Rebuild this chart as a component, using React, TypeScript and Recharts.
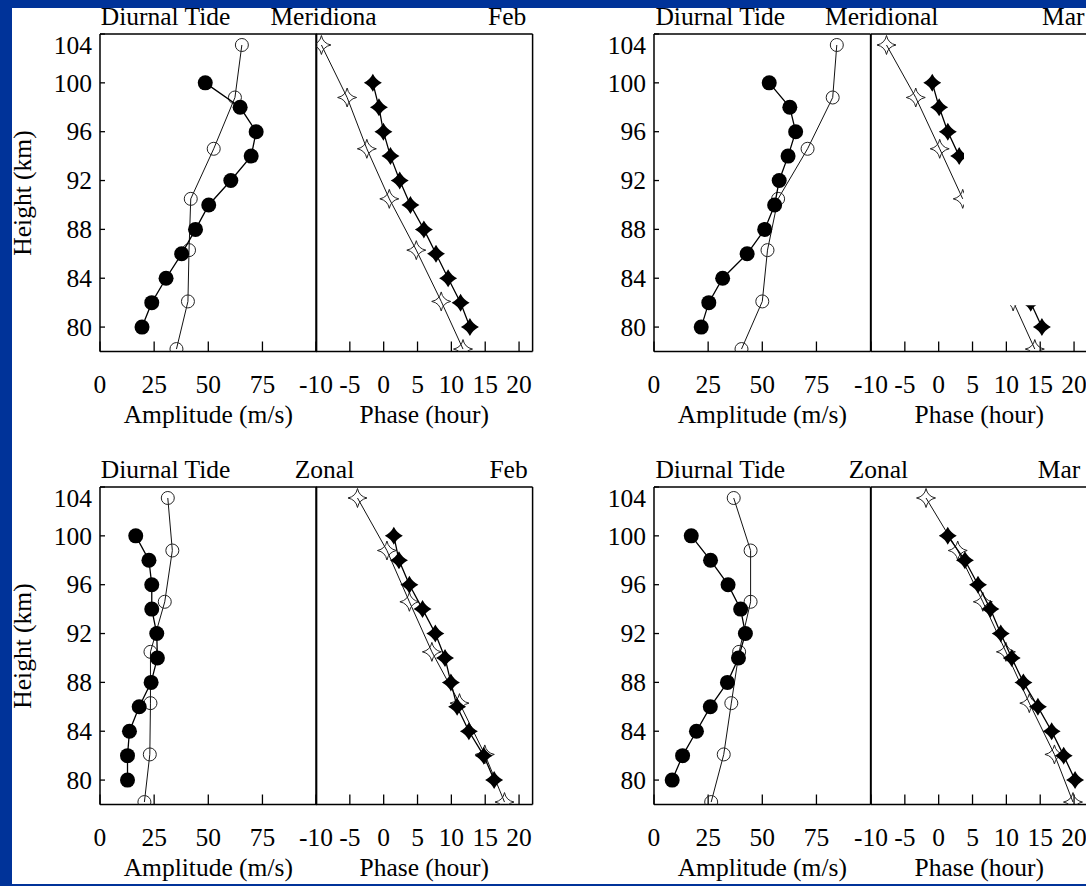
import React from 'react';
import { ScatterChart, Scatter, XAxis, YAxis, ReferenceArea } from 'recharts';

// ---------- data ----------
const radarHeights = [100, 98, 96, 94, 92, 90, 88, 86, 84, 82, 80];
const modelHeights = [103.1, 98.8, 94.6, 90.5, 86.3, 82.1, 78.2];

const heightTicks = [80, 84, 88, 92, 96, 100, 104];
const heightDomain: [number, number] = [78, 104];
const ampTicks = [0, 25, 50, 75];
const ampDomain: [number, number] = [0, 100];
const phaseTicks = [-10, -5, 0, 5, 10, 15, 20];
const phaseDomain: [number, number] = [-10, 22];

// Meridional, Feb
const merFebAmp = [48.6, 64.7, 72.1, 69.8, 60.4, 50.2, 44.1, 37.7, 30.5, 23.9, 19.4];
const merFebAmpModel = [65.5, 62.3, 52.5, 41.9, 41.1, 40.6, 35.3];
const merFebPhase = [-1.6, -0.7, -0.04, 1.0, 2.37, 3.95, 5.94, 7.73, 9.52, 11.36, 12.74];
const merFebPhaseModel = [-9.2, -5.4, -2.49, 0.83, 4.82, 8.5, 11.72];

// Meridional, Mar (middle of phase panel is blanked in the original)
const merMarAmp = [53.2, 62.7, 65.4, 61.9, 57.8, 55.7, 51.1, 43.0, 31.7, 25.3, 21.8];
const merMarAmpModel = [84.4, 82.5, 70.9, 57.3, 52.4, 50.0, 40.4];
const merMarPhase: (number | null)[] = [-0.95, 0.07, 1.35, 3.03, null, null, null, null, null, 13.6, 15.25];
const merMarPhaseModel: (number | null)[] = [-7.71, -3.39, 0.15, 3.55, null, 11.0, 14.2];
const merMarPhaseMask = { x1: 3.74, x2: 22, y1: 81.78, y2: 97.6 };

// Zonal, Feb
const zonFebAmp = [16.5, 22.6, 23.9, 23.9, 26.2, 26.5, 23.6, 18.1, 13.6, 12.7, 12.7];
const zonFebAmpModel = [31.3, 33.4, 29.9, 23.3, 23.3, 23.0, 20.5];
const zonFebPhase = [1.5, 2.26, 3.8, 5.74, 7.63, 9.06, 9.93, 10.85, 12.59, 14.78, 16.32];
const zonFebPhaseModel = [-3.87, 0.48, 3.8, 7.12, 11.2, 14.94, 17.85];

// Zonal, Mar
const zonMarAmp = [17.2, 26.1, 34.2, 40.0, 42.2, 39.0, 33.9, 26.0, 19.6, 13.2, 8.4];
const zonMarAmpModel = [36.8, 44.6, 44.6, 39.3, 35.7, 32.2, 26.4];
const zonMarPhase = [1.34, 3.88, 5.81, 7.64, 9.17, 10.79, 12.52, 14.66, 16.69, 18.47, 20.15];
const zonMarPhaseModel = [-1.87, 2.81, 6.52, 9.93, 13.39, 17.1, 19.84];

// ---------- style / layout ----------
const BLUE = '#003399';
const FONT = "'Liberation Serif', Tinos, 'Nimbus Roman', 'Nimbus Roman No9 L', 'Times New Roman', 'DejaVu Serif', serif";
const FS = 25.5;
const PW = 216.6;
const PH = 317.5;
const MT = 2;
const MR = 2;
const YW = 70;
const XH = 90;
const PHASE_ML = 30;
const rowTops = [34.4, 487.1];
const colLefts = [99.8, 654.4];

type Pt = { x: number; y: number };

function segments(values: (number | null)[], heights: number[]): Pt[][] {
  const segs: Pt[][] = [];
  let cur: Pt[] = [];
  values.forEach((v, i) => {
    if (v === null || v === undefined) {
      if (cur.length) segs.push(cur);
      cur = [];
    } else {
      cur.push({ x: v, y: heights[i] });
    }
  });
  if (cur.length) segs.push(cur);
  return segs;
}

const starPath = (cx: number, cy: number, r: number, k: number) =>
  `M${cx},${cy - r} Q${cx + k},${cy - k} ${cx + r},${cy} Q${cx + k},${cy + k} ${cx},${cy + r} ` +
  `Q${cx - k},${cy + k} ${cx - r},${cy} Q${cx - k},${cy - k} ${cx},${cy - r} Z`;

const FilledCircle = (p: any) => <circle cx={p.cx} cy={p.cy} r={7.5} fill="#000" />;
const OpenCircle = (p: any) => <circle cx={p.cx} cy={p.cy} r={6.5} fill="none" stroke="#222" strokeWidth={1} />;
const FilledStar = (p: any) => <path d={starPath(p.cx, p.cy, 9, 3)} fill="#000" />;
const OpenStar = (p: any) => <path d={starPath(p.cx, p.cy, 9.5, 1.6)} fill="none" stroke="#222" strokeWidth={1} />;

function HeightTick(props: any) {
  const { x, y, payload } = props;
  const shift = payload.value === 104 ? 11 : 0;
  return (
    <text x={x} y={y + shift} dy="0.34em" textAnchor="end" fontSize={FS} fill="#000" fontFamily={FONT}>
      {payload.value}
    </text>
  );
}

type PanelProps = {
  left: number;
  top: number;
  kind: 'amp' | 'phase';
  radar: (number | null)[];
  model: (number | null)[];
  mask?: { x1: number; x2: number; y1: number; y2: number };
};

function Panel({ left, top, kind, radar, model, mask }: PanelProps) {
  const isAmp = kind === 'amp';
  const yw = isAmp ? YW : 0;
  const ml = isAmp ? 0 : PHASE_ML;
  const domain = isAmp ? ampDomain : phaseDomain;
  const ticks = isAmp ? ampTicks : phaseTicks;
  const label = isAmp ? 'Amplitude (m/s)' : 'Phase (hour)';
  const modelSegs = segments(model, modelHeights);
  const radarSegs = segments(radar, radarHeights);
  const axisStroke = '#000';
  return (
    <div style={{ position: 'absolute', left: left - yw - ml, top: top - MT }}>
      <ScatterChart
        width={yw + ml + PW + MR}
        height={MT + PH + XH}
        margin={{ top: MT, right: MR, bottom: 0, left: ml }}
      >
        <XAxis
          xAxisId="b"
          type="number"
          dataKey="x"
          domain={domain}
          ticks={ticks}
          interval={0}
          allowDataOverflow
          height={XH}
          stroke={axisStroke}
          axisLine={{ stroke: axisStroke, strokeWidth: 1.5 }}
          tickLine={{ stroke: axisStroke, strokeWidth: 1.3 }}
          tickSize={-10}
          tickMargin={33.3}
          tick={{ fill: '#000', fontSize: FS, fontFamily: FONT }}
          label={{ value: label, position: 'insideBottom', offset: XH - 71.5, fill: '#000', fontSize: FS, fontFamily: FONT }}
        />
        <XAxis
          xAxisId="t"
          orientation="top"
          mirror
          type="number"
          dataKey="x"
          domain={domain}
          ticks={ticks}
          interval={0}
          allowDataOverflow
          stroke={axisStroke}
          axisLine={{ stroke: axisStroke, strokeWidth: 1.5 }}
          tickLine={{ stroke: axisStroke, strokeWidth: 1.3 }}
          tickSize={10}
          tick={false}
        />
        {isAmp ? (
          <YAxis
            yAxisId="l"
            type="number"
            dataKey="y"
            domain={heightDomain}
            ticks={heightTicks}
            interval={0}
            allowDataOverflow
            width={YW}
            stroke={axisStroke}
            axisLine={{ stroke: axisStroke, strokeWidth: 1.5 }}
            tickLine={{ stroke: axisStroke, strokeWidth: 1.3 }}
            tickSize={-5}
            tickMargin={13}
            tick={<HeightTick />}
          />
        ) : (
          <YAxis
            yAxisId="l"
            type="number"
            dataKey="y"
            mirror
            domain={heightDomain}
            ticks={heightTicks}
            interval={0}
            allowDataOverflow
            stroke={axisStroke}
            axisLine={{ stroke: axisStroke, strokeWidth: 1.5 }}
            tickLine={{ stroke: axisStroke, strokeWidth: 1.3 }}
            tickSize={10}
            tick={false}
          />
        )}
        <YAxis
          yAxisId="r"
          orientation="right"
          mirror
          type="number"
          dataKey="y"
          domain={heightDomain}
          ticks={heightTicks}
          interval={0}
          allowDataOverflow
          stroke={axisStroke}
          axisLine={{ stroke: axisStroke, strokeWidth: 1.5 }}
          tickLine={{ stroke: axisStroke, strokeWidth: 1.3 }}
          tickSize={10}
          tick={false}
        />
        {modelSegs.map((seg, i) => (
          <Scatter
            key={'m' + i}
            xAxisId="b"
            yAxisId="l"
            data={seg}
            line={{ stroke: '#111', strokeWidth: 1 }}
            lineType="joint"
            shape={isAmp ? OpenCircle : OpenStar}
            isAnimationActive={false}
          />
        ))}
        {radarSegs.map((seg, i) => (
          <Scatter
            key={'r' + i}
            xAxisId="b"
            yAxisId="l"
            data={seg}
            line={{ stroke: '#000', strokeWidth: 1.3 }}
            lineType="joint"
            shape={isAmp ? FilledCircle : FilledStar}
            isAnimationActive={false}
          />
        ))}
        {mask && (
          <ReferenceArea
            xAxisId="b"
            yAxisId="l"
            x1={mask.x1}
            x2={mask.x2}
            y1={mask.y1}
            y2={mask.y2}
            fill="#fff"
            fillOpacity={1}
            stroke="none"
            {...({ zIndex: 2000 } as any)}
          />
        )}
      </ScatterChart>
    </div>
  );
}

type Figure = {
  col: number;
  row: number;
  comp: string;
  compOffset: number;
  month: string;
  monthOffset: number;
  amp: (number | null)[];
  ampModel: (number | null)[];
  phase: (number | null)[];
  phaseModel: (number | null)[];
  mask?: { x1: number; x2: number; y1: number; y2: number };
};

const figures: Figure[] = [
  { col: 0, row: 0, comp: 'Meridiona', compOffset: 170.6, month: 'Feb', monthOffset: 388.2,
    amp: merFebAmp, ampModel: merFebAmpModel, phase: merFebPhase, phaseModel: merFebPhaseModel },
  { col: 1, row: 0, comp: 'Meridional', compOffset: 170.6, month: 'Mar', monthOffset: 387.6,
    amp: merMarAmp, ampModel: merMarAmpModel, phase: merMarPhase, phaseModel: merMarPhaseModel, mask: merMarPhaseMask },
  { col: 0, row: 1, comp: 'Zonal', compOffset: 195, month: 'Feb', monthOffset: 389.6,
    amp: zonFebAmp, ampModel: zonFebAmpModel, phase: zonFebPhase, phaseModel: zonFebPhaseModel },
  { col: 1, row: 1, comp: 'Zonal', compOffset: 194.3, month: 'Mar', monthOffset: 383.4,
    amp: zonMarAmp, ampModel: zonMarAmpModel, phase: zonMarPhase, phaseModel: zonMarPhaseModel },
];

const titleY = [16.7, 470];
const heightLabelX = 22.6;

const textStyle = (left: number, cy: number): React.CSSProperties => ({
  position: 'absolute',
  left,
  top: cy - 15,
  height: 30,
  lineHeight: '30px',
  fontSize: FS,
  fontFamily: FONT,
  color: '#000',
  whiteSpace: 'nowrap',
});

export default function App() {
  return (
    <div
      style={{
        position: 'fixed',
        left: 0,
        top: 0,
        width: 1086,
        height: 886,
        overflow: 'hidden',
        background: BLUE,
        fontFamily: FONT,
      }}
    >
      <div style={{ position: 'absolute', left: 12, top: 8, right: 0, bottom: 2, background: '#fff' }} />
      {figures.map((f, i) => {
        const left = colLefts[f.col];
        const top = rowTops[f.row];
        const ty = titleY[f.row];
        return (
          <React.Fragment key={i}>
            <div style={textStyle(left + 1, ty)}>Diurnal Tide</div>
            <div style={textStyle(left + f.compOffset, ty)}>{f.comp}</div>
            <div style={textStyle(left + f.monthOffset, ty)}>{f.month}</div>
            <Panel left={left} top={top} kind="amp" radar={f.amp} model={f.ampModel} />
            <Panel left={left + PW} top={top} kind="phase" radar={f.phase} model={f.phaseModel} mask={f.mask} />
          </React.Fragment>
        );
      })}
      {rowTops.map((t, i) => (
        <div
          key={'h' + i}
          style={{
            position: 'absolute',
            left: heightLabelX - 100,
            top: t + PH / 2 - 15,
            width: 200,
            height: 30,
            lineHeight: '30px',
            textAlign: 'center',
            fontSize: FS,
            fontFamily: FONT,
            color: '#000',
            transform: 'rotate(-90deg)',
            whiteSpace: 'nowrap',
          }}
        >
          Height (km)
        </div>
      ))}
    </div>
  );
}
